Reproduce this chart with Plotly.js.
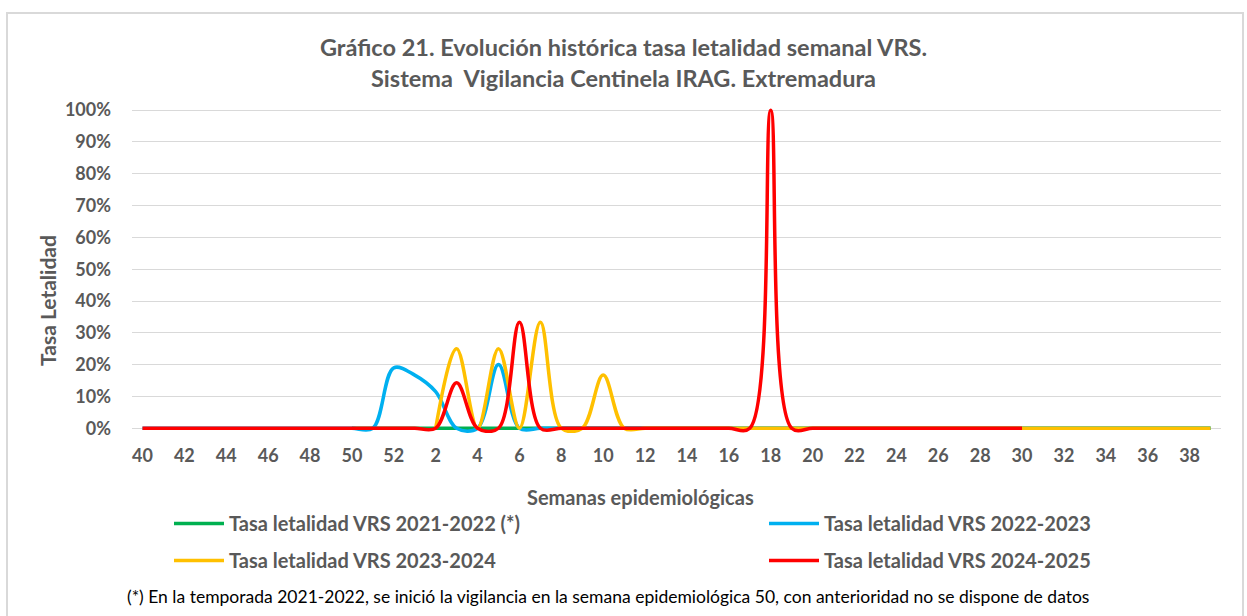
<!DOCTYPE html>
<html>
<head>
<meta charset="utf-8">
<script src="https://cdn.plot.ly/plotly-3.0.1.min.js"></script>
<style>
  html, body { margin: 0; padding: 0; background: #fff; }
  #chart { width: 1247px; height: 616px; }
  #frame { position: absolute; left: 6px; top: 12px; width: 1234px; height: 620px;
           border: 2px solid #d9d9d9; pointer-events: none; }
</style>
</head>
<body>
<div id="chart"></div>
<div id="frame"></div>
<script>
// Semanas epidemiológicas (40..52, 1..39)
const weeks = ['40','41','42','43','44','45','46','47','48','49','50','51','52',
  '1','2','3','4','5','6','7','8','9','10','11','12','13','14','15','16','17','18','19','20',
  '21','22','23','24','25','26','27','28','29','30','31','32','33','34','35','36','37','38','39'];

// Tasa letalidad VRS 2021-2022 (*) — vigilancia desde semana 50
const s2021_2022 = [null,null,null,null,null,null,null,null,null,null,0,0,0,
  0,0,0,0,0,0,0,0,0,0,0,0,0,0,0,0,0,0,0,0,
  0,0,0,0,0,0,0,0,0,0,0,0,0,0,0,0,0,0,0];

// Tasa letalidad VRS 2022-2023
const s2022_2023 = [0,0,0,0,0,0,0,0,0,0,0,0,0.19,
  0.167,0.115,0,0,0.2,0,0,0,0,0,0,0,0,0,0,0,0,0,0,0,
  0,0,0,0,0,0,0,0,0,0,0,0,0,0,0,0,0,0,0];

// Tasa letalidad VRS 2023-2024
const s2023_2024 = [null,null,null,null,null,null,null,null,null,null,null,null,null,
  null,0,0.25,0,0.25,0,0.333,0,0,0.167,0,0,0,0,0,0,0,0,0,0,
  0,0,0,0,0,0,0,0,0,0,0,0,0,0,0,0,0,0,0];

// Tasa letalidad VRS 2024-2025
const s2024_2025 = [0,0,0,0,0,0,0,0,0,0,0,0,0,
  0,0,0.143,0,0,0.333,0,0,0,0,0,0,0,0,0,0,0,1.0,0,0,
  0,0,0,0,0,0,0,0,0,0,null,null,null,null,null,null,null,null,null];

const seriesNames = ['Tasa letalidad VRS 2021-2022 (*)','Tasa letalidad VRS 2022-2023',
                     'Tasa letalidad VRS 2023-2024','Tasa letalidad VRS 2024-2025'];
const seriesColors = ['#00B050','#00B0F0','#FFC000','#FF0000'];
const seriesData = [s2021_2022, s2022_2023, s2023_2024, s2024_2025];
const seriesLegend = ['legend','legend2','legend','legend2'];
const yTicks = [0,0.1,0.2,0.3,0.4,0.5,0.6,0.7,0.8,0.9,1.0];

const FONT = 'Lato, Carlito, Calibri, sans-serif';
const GREY = '#595959';

const traces = seriesData.map((d, i) => ({
  x: weeks, y: d, type: 'scatter', mode: 'lines', name: seriesNames[i],
  legend: seriesLegend[i], legendgroup: 'g' + i,
  line: { color: seriesColors[i], width: 3.5, shape: 'spline', smoothing: 1 },
  hoverinfo: 'skip'
}));

const legendFont = { family: FONT, size: 20, color: GREY, weight: 'bold' };
const legendCommon = {
  orientation: 'v', xanchor: 'left', yref: 'container', y: 0.182, yanchor: 'top',
  itemwidth: 50, tracegroupgap: 8, traceorder: 'grouped',
  font: legendFont, bgcolor: 'rgba(0,0,0,0)'
};

const layout = {
  width: 1247, height: 616,
  margin: { l: 132, r: 26, t: 107, b: 183, autoexpand: false },
  paper_bgcolor: '#fff', plot_bgcolor: '#fff',
  font: { family: FONT, color: GREY },
  title: {
    text: '<b>Gráfico 21. Evolución histórica tasa letalidad semanal VRS.<br>Sistema  Vigilancia Centinela IRAG. Extremadura</b>',
    font: { family: FONT, size: 23.5, color: GREY },
    x: 0.5, xanchor: 'center', y: 0.9087, yanchor: 'middle', yref: 'container'
  },
  xaxis: {
    type: 'category', range: [-0.5, 51.5], tickmode: 'linear', tick0: 0, dtick: 2,
    showgrid: false, zeroline: false, showline: false, ticks: '', ticklabelstandoff: 10,
    tickfont: { family: FONT, size: 18, color: GREY, weight: 'bold' },
    fixedrange: true
  },
  yaxis: {
    range: [-0.015, 1.01], tickvals: yTicks, tickformat: '.0%',
    showgrid: true, gridcolor: '#D9D9D9', gridwidth: 1, zeroline: false, showline: false,
    ticks: '', ticklabelstandoff: 20,
    tickfont: { family: FONT, size: 18, color: GREY, weight: 'bold' },
    fixedrange: true
  },
  showlegend: true,
  legend: Object.assign({}, legendCommon, { x: (169 - 132) / 1089 }),
  legend2: Object.assign({}, legendCommon, { x: (764 - 132) / 1089 }),
  annotations: [
    { text: '<b>Tasa Letalidad</b>', xref: 'paper', yref: 'paper',
      x: (47 - 132) / 1089, y: (433 - 300) / 326, xanchor: 'center', yanchor: 'middle',
      textangle: -90, showarrow: false, font: { family: FONT, size: 21, color: GREY } },
    { text: '<b>Semanas epidemiológicas</b>', xref: 'paper', yref: 'paper',
      x: 0.467, y: -0.196, xanchor: 'center', yanchor: 'middle', showarrow: false,
      font: { family: FONT, size: 20, color: GREY } },
    { text: '(*) En la temporada 2021-2022, se inició la vigilancia en la semana epidemiológica 50, con anterioridad no se dispone de datos',
      xref: 'paper', yref: 'paper', x: 0.437, y: -0.503, xanchor: 'center', yanchor: 'middle',
      showarrow: false, font: { family: FONT, size: 17.5, color: '#000000' } }
  ]
};

Plotly.newPlot('chart', traces, layout, { staticPlot: true, displayModeBar: false });
</script>
</body>
</html>
